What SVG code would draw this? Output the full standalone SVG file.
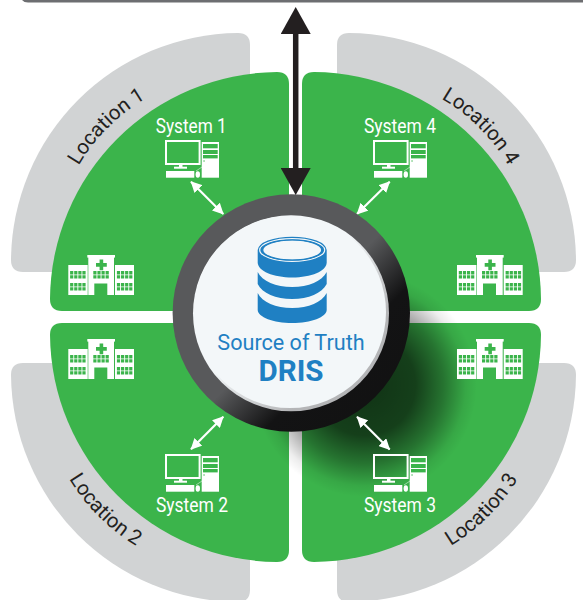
<svg xmlns="http://www.w3.org/2000/svg" width="583" height="600" viewBox="0 0 583 600">
<style>
.gray{fill:#d1d3d4}
.green{fill:#3bb44b}
.sys{font-family:Roboto,"Liberation Sans",sans-serif;font-size:19.5px;fill:#fff;text-anchor:middle}
.loc{font-family:Roboto,"Liberation Sans",sans-serif;font-size:20.5px;fill:#231f20;text-anchor:middle}
.w{fill:#fff}
.g{fill:#3bb44b}
.link{stroke:#fff;stroke-width:2.2;fill:none;marker-start:url(#wh);marker-end:url(#wh)}
</style>
<defs>
<marker id="wh" viewBox="0 0 10 10" refX="9.5" refY="5" markerWidth="11" markerHeight="11" markerUnits="userSpaceOnUse" orient="auto-start-reverse"><path d="M0,0L10,5L0,10Z" fill="#fff"/></marker>
<marker id="bh" viewBox="0 0 27 30" refX="1" refY="15" markerWidth="27" markerHeight="30" markerUnits="userSpaceOnUse" orient="auto-start-reverse"><path d="M0,0L27,15L0,30Z" fill="#231f20"/></marker>
<path id="grayq" d="M250,45Q250,33 238,33A229,229 0 0 0 11,260Q11,272 23,272L250,272Z"/>
<path id="greenq" d="M289,84Q289,72 277,72A229,229 0 0 0 50,299Q50,311 62,311L289,311Z"/>
<path id="p1" d="M59.4,211.6A187,187 0 0 1 191.6,79.4"/>
<path id="p4" d="M395.4,79.4A187,187 0 0 1 527.6,211.6"/>
<path id="p2" d="M46.8,426.8A200,200 0 0 0 188.2,568.2"/>
<path id="p3" d="M398.8,568.2A200,200 0 0 0 540.2,426.8"/>
<radialGradient id="shadow" cx="365" cy="385" r="112" gradientUnits="userSpaceOnUse">
<stop offset="0" stop-color="#000" stop-opacity=".72"/><stop offset=".45" stop-color="#000" stop-opacity=".65"/><stop offset=".7" stop-color="#000" stop-opacity=".36"/><stop offset=".9" stop-color="#000" stop-opacity=".07"/><stop offset="1" stop-color="#000" stop-opacity="0"/>
</radialGradient>
<linearGradient id="ring" x1="0" y1="0" x2="1" y2="1">
<stop offset=".52" stop-color="#58595b"/><stop offset=".69" stop-color="#131314"/><stop offset="1" stop-color="#111"/>
</linearGradient>
<linearGradient id="rim" x1="0" y1="0" x2="1" y2="1">
<stop offset=".45" stop-color="#f3f7f9"/><stop offset=".75" stop-color="#b4b5b7"/>
</linearGradient>
<g id="pc">
<rect x="1" y="1" width="33.6" height="23" fill="none" stroke="#fff" stroke-width="2"/>
<rect class="w" x="14" y="25" width="3.5" height="2"/>
<rect class="w" x="9" y="26.7" width="13" height="2"/>
<rect class="w" x="1" y="31" width="28.3" height="6.7"/>
<ellipse class="w" cx="32.8" cy="34.5" rx="2.2" ry="3.2"/>
<path d="M31,31L37,27" stroke="#fff" stroke-width=".5" fill="none"/>
<rect class="w" x="36.7" y="2" width="17.3" height="35.7"/>
<rect class="g" x="38" y="4" width="14.7" height="4.3"/>
<rect class="g" x="38" y="10" width="14.7" height="4"/>
<rect class="g" x="38" y="15" width="14.7" height="3.4"/>
<rect class="g" x="38.3" y="20.5" width="1.5" height="1"/>
</g>
<g id="win"><path class="g" d="M0,0h3.2v3.4h-3.2zM4.1,0h3.2v3.4h-3.2zM8.2,0h3.2v3.4h-3.2zM12.3,0h3.2v3.4h-3.2zM0,4.2h3.2v3.4h-3.2zM4.1,4.2h3.2v3.4h-3.2zM8.2,4.2h3.2v3.4h-3.2zM12.3,4.2h3.2v3.4h-3.2z"/></g>
<g id="hosp">
<rect class="w" x="0" y="10" width="19.4" height="30"/>
<rect class="w" x="20" y="2" width="25.7" height="38"/>
<rect class="w" x="19" y="0" width="27.7" height="2.6"/>
<rect class="w" x="46.7" y="10" width="19" height="30"/>
<path class="g" d="M31.3,4.5h3.6v3.6h3.6v3.6h-3.6v3.6h-3.6v-3.6h-3.6v-3.6h3.6z"/>
<rect class="g" x="26" y="28.5" width="13" height="11.5"/>
<use href="#win" x="1.8" y="16"/>
<use href="#win" x="1.8" y="28"/>
<use href="#win" x="25" y="16"/>
<use href="#win" x="48.6" y="16"/>
<use href="#win" x="48.6" y="28"/>
</g>
</defs>
<rect width="583" height="600" fill="#fff"/>
<path id="top-bar" d="M22,0H583V2.5H28Q24,2.5 22,0Z" fill="#6d6e71"/>
<g id="quadrants">
<use href="#grayq" class="gray"/>
<use href="#grayq" class="gray" transform="matrix(1 0 0 -1 0 635)"/>
<use href="#grayq" class="gray" transform="matrix(-1 0 0 -1 587 635)"/>
<use href="#grayq" class="gray" transform="matrix(-1 0 0 1 587 0)"/>
<use href="#greenq" class="green"/>
<use href="#greenq" class="green" transform="matrix(1 0 0 -1 0 634)"/>
<use href="#greenq" class="green" transform="matrix(-1 0 0 -1 591 634)"/>
<use href="#greenq" class="green" transform="matrix(-1 0 0 1 591 0)"/>
</g>
<circle id="shadow-c" cx="365" cy="385" r="112" fill="url(#shadow)"/>
<g id="location-1">
<text class="loc"><textPath href="#p1" startOffset="50%">Location 1</textPath></text>
<use href="#hosp" x="68.3" y="255"/>
</g>
<g id="system-1">
<text class="sys" x="191.2" y="133" textLength="71" lengthAdjust="spacingAndGlyphs">System 1</text>
<use href="#pc" x="165" y="140"/>
</g>
<g id="location-4">
<text class="loc"><textPath href="#p4" startOffset="50%">Location 4</textPath></text>
<use href="#hosp" x="457" y="255"/>
</g>
<g id="system-4">
<text class="sys" x="400" y="133" textLength="72" lengthAdjust="spacingAndGlyphs">System 4</text>
<use href="#pc" x="373" y="140"/>
</g>
<g id="location-2">
<text class="loc"><textPath href="#p2" startOffset="50%">Location 2</textPath></text>
<use href="#hosp" x="68.3" y="339"/>
</g>
<g id="system-2">
<text class="sys" x="192" y="512" textLength="72" lengthAdjust="spacingAndGlyphs">System 2</text>
<use href="#pc" x="165" y="454"/>
</g>
<g id="location-3">
<text class="loc"><textPath href="#p3" startOffset="50%">Location 3</textPath></text>
<use href="#hosp" x="457" y="339"/>
</g>
<g id="system-3">
<text class="sys" x="400" y="512" textLength="72" lengthAdjust="spacingAndGlyphs">System 3</text>
<use href="#pc" x="373" y="454"/>
</g>
<g id="connectors">
<line class="link" x1="191" y1="181.7" x2="223.3" y2="214"/>
<line class="link" x1="389.7" y1="181.7" x2="357" y2="214"/>
<line class="link" x1="223.3" y1="416.7" x2="191" y2="449.3"/>
<line class="link" x1="357" y1="416.7" x2="389.7" y2="449.5"/>
</g>
<g id="dris">
<circle cx="291.3" cy="313" r="118.7" fill="url(#ring)"/>
<circle cx="291" cy="313.3" r="98" fill="url(#rim)"/>
<circle cx="290" cy="312" r="96" fill="#f3f7f9"/>
<path fill="#1f80c3" d="M257.7,250A34.5,13.3 0 0 1 326.7,250V262.5C326.7,271 311,277.5 292.2,277.5C273.5,277.5 257.7,271 257.7,262.5Z"/>
<path fill="#1f80c3" d="M257.7,272C262,281 276,287 292.2,287C308.5,287 322,281 326.7,272V284C322,293 308.5,299 292.2,299C276,299 262,293 257.7,284Z"/>
<path fill="#1f80c3" d="M257.7,293C262,302 276,308 292.2,308C308.5,308 322,302 326.7,293V310C326.7,317 311,323 292.2,323C273.5,323 257.7,317 257.7,310Z"/>
<ellipse cx="292.2" cy="250" rx="32.5" ry="11.3" fill="none" stroke="#f3f7f9" stroke-width="1.2"/>
<ellipse cx="292.2" cy="250" rx="29.5" ry="9.8" fill="#f3f7f9"/>
<ellipse cx="292.2" cy="250" rx="29.5" ry="10" fill="none" stroke="#1f80c3" stroke-width="1.2"/>
<text x="291" y="350" font-family="Roboto,'Liberation Sans',sans-serif" font-size="21.6" fill="#1f80c3" text-anchor="middle">Source of Truth</text>
<text x="291" y="381" font-family="Roboto,'Liberation Sans',sans-serif" font-size="29.6" font-weight="700" fill="#1f80c3" text-anchor="middle">DRIS</text>
</g>
<g id="connector-main">
<line x1="295.7" y1="33" x2="295.7" y2="169" stroke="#231f20" stroke-width="5.5" marker-start="url(#bh)" marker-end="url(#bh)"/>
</g>
</svg>
